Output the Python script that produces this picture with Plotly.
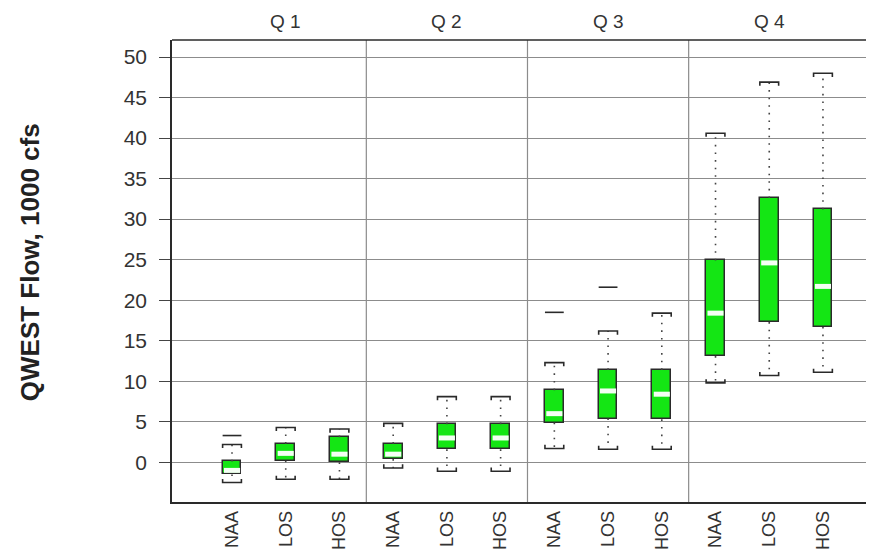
import plotly.graph_objects as go

# ---- data ----
quarters = ["Q 1", "Q 2", "Q 3", "Q 4"]
scenarios = ["NAA", "LOS", "HOS"]
p10 = [-2.5, -2.1, -2.1, -0.7, -1.1, -1.1, 1.7, 1.6, 1.6, 9.8, 10.7, 11.1]
q1 = [-1.5, 0.2, 0.0, 0.4, 1.6, 1.6, 4.9, 5.4, 5.3, 13.1, 17.3, 16.7]
median = [-1.0, 1.1, 1.0, 1.0, 3.0, 3.0, 6.0, 8.8, 8.4, 18.4, 24.6, 21.7]
q3 = [0.1, 2.3, 3.1, 2.3, 4.7, 4.7, 8.9, 11.4, 11.4, 24.9, 32.6, 31.2]
p90 = [2.2, 4.3, 4.1, 4.8, 8.1, 8.1, 12.3, 16.2, 18.4, 40.6, 46.9, 48.0]
maxv = [3.3, None, None, None, None, None, 18.5, 21.6, None, None, None, None]

labels = [s for q in quarters for s in scenarios]
pos = list(range(len(labels)))

GREEN = "#14e614"
INK = "#2a2a2a"
GRID = "#8c8c8c"
hw = 0.175      # half box width (x units)
mhw = 0.15      # half median width
cap_d = 0.45    # cap tick length (y units)

fig = go.Figure()

# dotted whiskers
wx, wy = [], []
for i in pos:
    wx += [i, i, None, i, i, None]
    wy += [q3[i], p90[i], None, q1[i], p10[i], None]
fig.add_trace(go.Scatter(x=wx, y=wy, mode="lines",
                         line=dict(color="#444444", width=1.6, dash="1.6px,6px"),
                         hoverinfo="skip", showlegend=False))

# boxes
fig.add_trace(go.Bar(x=pos, y=[q3[i] - q1[i] for i in pos], base=q1, width=2 * hw,
                     marker=dict(color=GREEN, line=dict(color=INK, width=1.5)),
                     showlegend=False))

# medians
mx, my = [], []
for i in pos:
    mx += [i - mhw, i + mhw, None]
    my += [median[i], median[i], None]
fig.add_trace(go.Scatter(x=mx, y=my, mode="lines", line=dict(color="#f4fff4", width=5),
                         hoverinfo="skip", showlegend=False))

# caps (bracket shape)
cx, cy = [], []
for i in pos:
    cx += [i - hw, i - hw, i + hw, i + hw, None]
    cy += [p90[i] - cap_d, p90[i], p90[i], p90[i] - cap_d, None]
    cx += [i - hw, i - hw, i + hw, i + hw, None]
    cy += [p10[i] + cap_d, p10[i], p10[i], p10[i] + cap_d, None]
fig.add_trace(go.Scatter(x=cx, y=cy, mode="lines", line=dict(color=INK, width=1.6),
                         hoverinfo="skip", showlegend=False))

# max markers (plain line)
xx, xy = [], []
for i in pos:
    if maxv[i] is not None:
        xx += [i - hw, i + hw, None]
        xy += [maxv[i], maxv[i], None]
fig.add_trace(go.Scatter(x=xx, y=xy, mode="lines", line=dict(color=INK, width=1.6),
                         hoverinfo="skip", showlegend=False))

shapes = []
for k in range(1, len(quarters)):
    xs = k * len(scenarios) - 0.5
    shapes.append(dict(type="line", xref="x", yref="paper", x0=xs, x1=xs, y0=0, y1=1,
                       line=dict(color=GRID, width=1.2), layer="below"))
shapes.append(dict(type="line", xref="paper", yref="paper", x0=0, x1=1, y0=1, y1=1,
                   line=dict(color=INK, width=1.6)))

annotations = []
for k, q in enumerate(quarters):
    annotations.append(dict(x=k * len(scenarios) + 1, y=1.039, xref="x", yref="paper",
                            xanchor="center", yanchor="middle",
                            text=q, showarrow=False,
                            font=dict(family="Arial", size=19, color="#333333")))
annotations.append(dict(x=-0.2023, y=0.519, xref="paper", yref="paper",
                        xanchor="center", yanchor="middle",
                        text="<b>QWEST Flow, 1000 cfs</b>", textangle=-90, showarrow=False,
                        font=dict(family="Arial", size=26, color="#222222")))

fig.update_layout(
    width=866, height=544,
    margin=dict(l=164, r=0, t=32, b=50),
    paper_bgcolor="white", plot_bgcolor="white",
    shapes=shapes, annotations=annotations,
    font=dict(family="Arial", color="#333333"),
    xaxis=dict(range=[-1.117, 11.95], tickmode="array", tickvals=pos, ticktext=labels,
               tickangle=-90, tickfont=dict(size=18, color="#333333"),
               showgrid=False, zeroline=False, showline=True, linecolor=INK, linewidth=1.6,
               ticks=""),
    yaxis=dict(range=[-4.9, 52.1], tickmode="array", tickvals=[0, 5, 10, 15, 20, 25, 30, 35, 40, 45, 50],
               tickfont=dict(size=21, color="#333333"), ticks="outside", ticklen=11,
               tickcolor="#444444", tickwidth=1.2, ticklabelstandoff=8,
               showgrid=True, gridcolor=GRID, gridwidth=1.1, zeroline=False,
               showline=True, linecolor=INK, linewidth=1.6),
    bargap=0,
)

fig.write_html("out.html")
